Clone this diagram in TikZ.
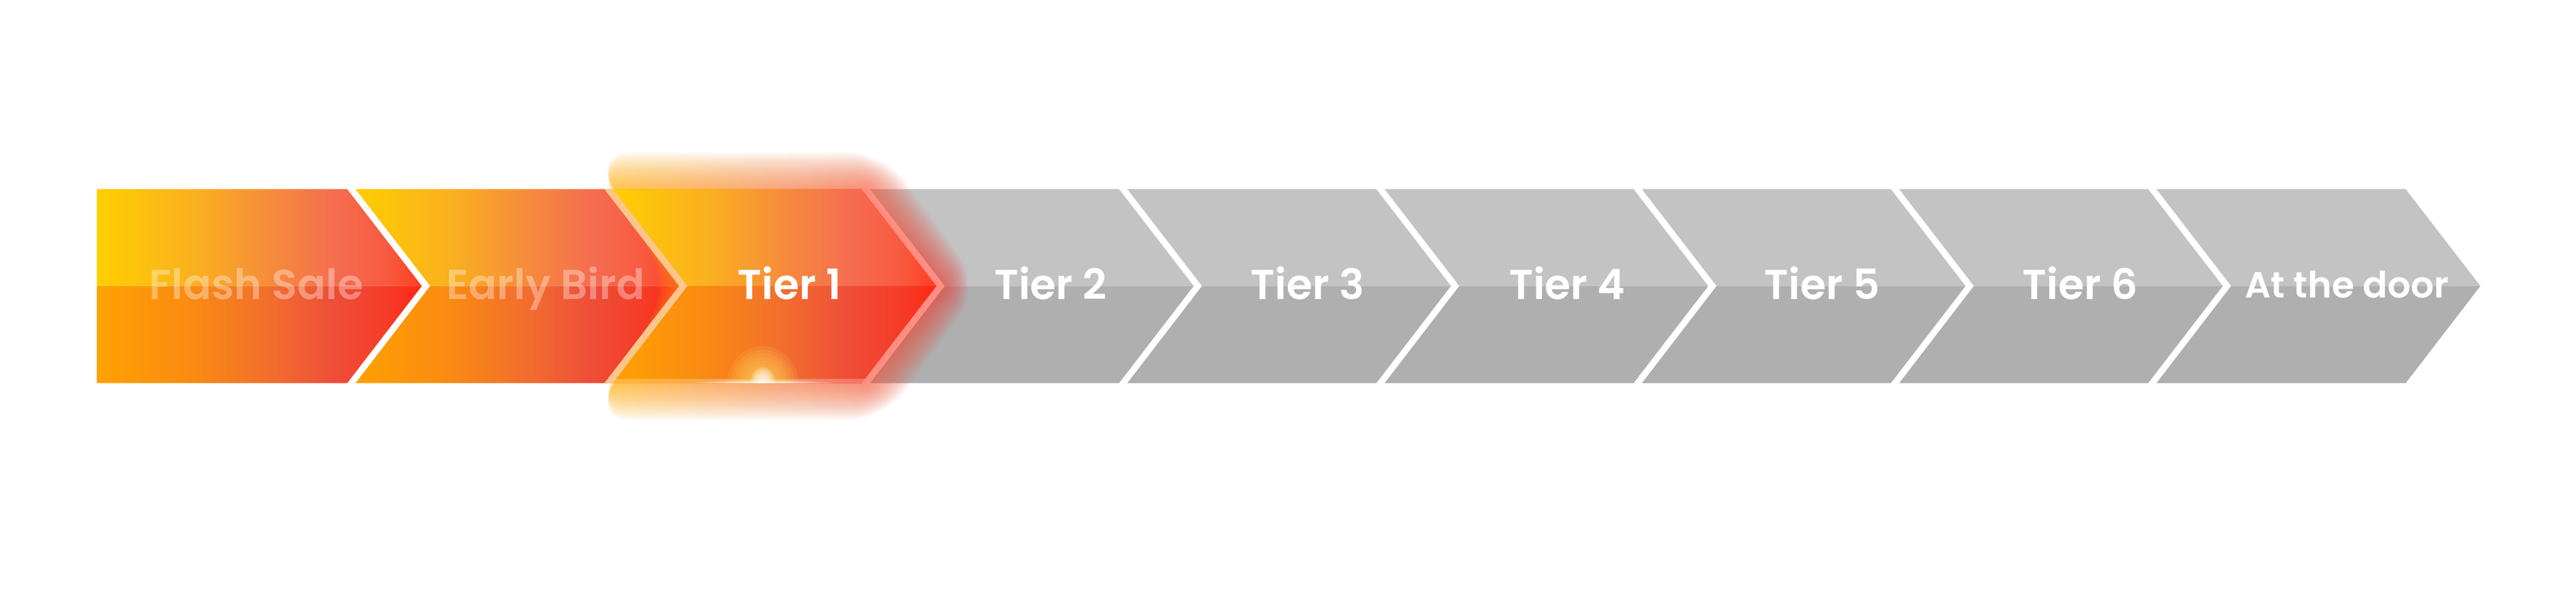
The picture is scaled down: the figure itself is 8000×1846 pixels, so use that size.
\documentclass[tikz,border=0pt]{standalone}
\usepackage{fontspec}
\newfontfamily\tierfont{Poppins SemiBold}
\definecolor{t0}{HTML}{FFCF00}
\definecolor{t1}{HTML}{FAB020}
\definecolor{t2}{HTML}{F6883E}
\definecolor{t3}{HTML}{F56E50}
\definecolor{t4}{HTML}{F85A40}
\definecolor{t5}{HTML}{FF3A1E}
\definecolor{b0}{HTML}{FFA200}
\definecolor{b1}{HTML}{F98A14}
\definecolor{b2}{HTML}{F26A30}
\definecolor{b3}{HTML}{EE4E38}
\definecolor{b4}{HTML}{F53C28}
\definecolor{b5}{HTML}{FF2412}
\definecolor{g0}{HTML}{FFB400}
\definecolor{g1}{HTML}{F88040}
\definecolor{g2}{HTML}{F53535}
\definecolor{graytop}{HTML}{C3C3C3}
\definecolor{graybot}{HTML}{AFAFAF}
\definecolor{sepl}{HTML}{FAC68C}
\definecolor{sepr}{HTML}{FF8E82}
\definecolor{halo}{HTML}{FFD860}
\pgfdeclarehorizontalshading{otop}{100bp}{color(0bp)=(t0); color(25bp)=(t0); color(40bp)=(t1); color(52.5bp)=(t2); color(61bp)=(t3); color(69bp)=(t4); color(75bp)=(t5); color(100bp)=(t5)}
\pgfdeclarehorizontalshading{obot}{100bp}{color(0bp)=(b0); color(25bp)=(b0); color(40bp)=(b1); color(52.5bp)=(b2); color(61bp)=(b3); color(69bp)=(b4); color(75bp)=(b5); color(100bp)=(b5)}
\pgfdeclarehorizontalshading{glowsh}{100bp}{color(0bp)=(g0); color(25bp)=(g0); color(50bp)=(g1); color(75bp)=(g2); color(100bp)=(g2)}
\tikzset{
  sepline/.style={white, line width=2pt, line join=miter},
  lbl/.style={anchor=base, inner sep=0pt, text=white, font=\tierfont\fontsize{13}{15}\selectfont},
  lblsmall/.style={lbl, font=\tierfont\fontsize{11.3}{13}\selectfont},
  faded/.style={text opacity=0.35}
}
\begin{document}
\begin{tikzpicture}[x=0.1pt,y=-0.1pt]
\def\T{588}\def\Bo{1191}\def\M{889}\def\D{232}
\fill[white] (0,0) rectangle (8000,1846);
\useasboundingbox (0,0) rectangle (8000,1846);
% Flash Sale
\shade[shading=otop] (301,\T) -- (1091,\T) -- (1323,\M) -- (301,\M) -- cycle;
\shade[shading=obot] (301,\M) -- (1323,\M) -- (1091,\Bo) -- (301,\Bo) -- cycle;
% orange chevrons
\foreach \L/\R in {1091/1890, 1890/2689}{
  \shade[shading=otop] (\L,\T) -- (\R,\T) -- ({\R+\D},\M) -- ({\L+\D},\M) -- cycle;
  \shade[shading=obot] ({\L+\D},\M) -- ({\R+\D},\M) -- (\R,\Bo) -- (\L,\Bo) -- cycle;
}
% gray chevrons
\foreach \L/\R in {2689/3488, 3488/4287, 4287/5086, 5086/5885, 5885/6684, 6684/7471}{
  \fill[graytop] (\L,\T) -- (\R,\T) -- ({\R+\D},\M) -- ({\L+\D},\M) -- cycle;
  \fill[graybot] ({\L+\D},\M) -- ({\R+\D},\M) -- (\R,\Bo) -- (\L,\Bo) -- cycle;
}
% separators
\begin{scope}
\clip (0,\T) rectangle (8000,\Bo);
\foreach \b in {1091,1890,2689,3488,4287,5086,5885,6684}{
  \draw[sepline] ({\b-46},{\T-60}) -- ({\b+\D},\M) -- ({\b-46},{\Bo+60});
}
\end{scope}
% glow around Tier 1
\foreach \r in {5,10,...,115}{
  \pgfmathsetmacro\rc{0.1*\r}
  \shade[shading=glowsh, fill opacity=0.045, rounded corners=\rc pt]
    ({1890-0.4*\r},{\T-\r}) -- ({2689+0.49*\r},{\T-\r}) -- ({2921+1.1*\r},\M)
    -- ({2689+0.49*\r},{\Bo+\r}) -- ({1890-0.4*\r},{\Bo+\r}) -- ({2122-0.4*\r},\M) -- cycle;
}
% Tier 1 on top
\shade[shading=otop] (1890,\T) -- (2689,\T) -- (2921,\M) -- (2122,\M) -- cycle;
\shade[shading=obot] (2122,\M) -- (2921,\M) -- (2689,\Bo) -- (1890,\Bo) -- cycle;
% light at the bottom of Tier 1
\begin{scope}
\clip (2122,\M) -- (2921,\M) -- (2689,\Bo) -- (1890,\Bo) -- cycle;
\fill[white, fill opacity=0.25] (1850,1177) rectangle (2950,1191);
\foreach \s in {1,...,10}{
  \fill[halo, fill opacity=0.13] (2369,\Bo) ellipse [x radius={1.1pt*\s}, y radius={1.15pt*\s}];
}
\foreach \s in {1,...,8}{
  \fill[white, fill opacity=0.2] (2369,\Bo) ellipse [x radius={0.48pt*\s}, y radius={0.62pt*\s}];
}
\foreach \s in {1,...,6}{
  \fill[white, fill opacity=0.22] (2369,\Bo) ellipse [x radius={3.5pt*\s}, y radius={0.15pt*\s}];
}
\end{scope}
% tinted separators of Tier 1
\begin{scope}
\clip (0,\T) rectangle (8000,\Bo);
\draw[sepline, sepl] ({1890-46},{\T-60}) -- ({1890+\D},\M) -- ({1890-46},{\Bo+60});
\draw[sepline, sepr] ({2689-46},{\T-60}) -- ({2689+\D},\M) -- ({2689-46},{\Bo+60});
\end{scope}
% labels
\node[lbl, faded] (flash) at (796,931) {Flash Sale};
\node[lbl, faded] (early) at (1694,931) {Early Bird};
\node[lbl] (tier1) at (2452,931) {Tier 1};
\node[lbl] (tier2) at (3263,931) {Tier 2};
\node[lbl] (tier3) at (4061,931) {Tier 3};
\node[lbl] (tier4) at (4867,931) {Tier 4};
\node[lbl] (tier5) at (5659,931) {Tier 5};
\node[lbl] (tier6) at (6460,931) {Tier 6};
\node[lblsmall] (door) at (7288,925) {At the door};
\end{tikzpicture}
\end{document}
